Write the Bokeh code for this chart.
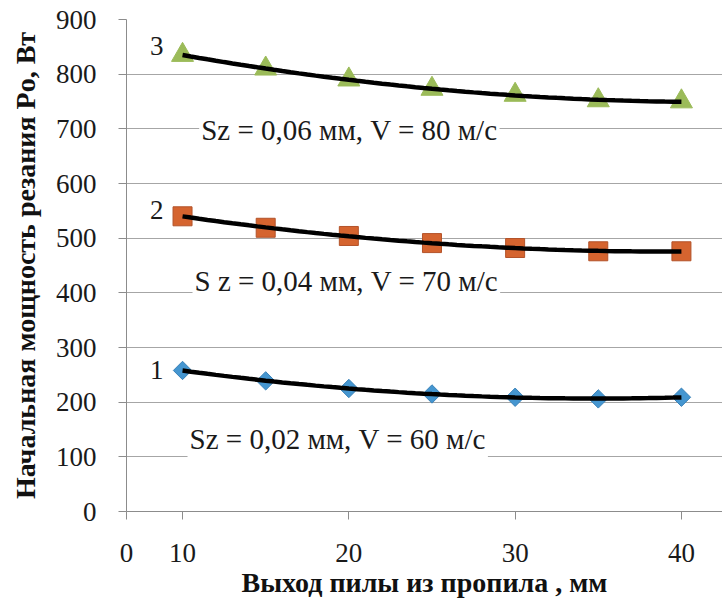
import numpy as np
from bokeh.plotting import figure
from bokeh.models import Range1d, FixedTicker, Label, ColumnDataSource
from bokeh.embed import file_html
from bokeh.resources import INLINE

# ---- data ----
x_mm = [10, 15, 20, 25, 30, 35, 40]
p_sz002 = [258, 239, 225, 215, 209, 206, 209]   # 1: Sz=0,02 мм, V=60 м/с
p_sz004 = [540, 519, 504, 491, 482, 476, 476]   # 2: Sz=0,04 мм, V=70 м/с
p_sz006 = [835, 810, 790, 773, 762, 752, 750]   # 3: Sz=0,06 мм, V=80 м/с
series_numbers = ["1", "2", "3"]
series_notes = ["Sz = 0,02 мм, V = 60 м/с",
                "S z = 0,04 мм, V = 70 м/с",
                "Sz = 0,06 мм, V = 80 м/с"]
x_tick_values = [10, 20, 30, 40]
x_tick_labels = ["0", "10", "20", "30", "40"]
y_ticks = [0, 100, 200, 300, 400, 500, 600, 700, 800, 900]

X_START = 6.63
X_END = 42.47

SERIF = "Liberation Serif"
GRID = "#A6A6A6"

p = figure(width=722, height=605, output_backend="svg", toolbar_location=None,
           x_range=Range1d(X_START, X_END), y_range=Range1d(0, 900),
           min_border_left=126, min_border_right=0, min_border_top=19,
           min_border_bottom=94)
p.outline_line_color = None
p.background_fill_color = "white"
p.border_fill_color = "white"

# axes
p.xgrid.grid_line_color = None
p.ygrid.grid_line_color = GRID
p.ygrid.grid_line_width = 1
p.yaxis.ticker = FixedTicker(ticks=y_ticks)
p.xaxis.ticker = FixedTicker(ticks=[X_START] + x_tick_values)
p.xaxis.major_label_overrides = {X_START: x_tick_labels[0],
                                 **{v: l for v, l in zip(x_tick_values, x_tick_labels[1:])}}
for ax in (p.xaxis[0], p.yaxis[0]):
    ax.axis_line_color = "#8C8C8C"
    ax.major_tick_line_color = "#8C8C8C"
    ax.major_tick_out = 8
    ax.major_tick_in = 0
    ax.minor_tick_out = 0
    ax.minor_tick_in = 0
    ax.major_label_text_font = SERIF
    ax.major_label_text_font_size = "27px"
    ax.major_label_text_color = "#1a1a1a"
    ax.axis_label_text_font = SERIF
    ax.axis_label_text_font_style = "bold"
    ax.axis_label_text_font_size = "28px"
    ax.axis_label_text_color = "#111111"

p.yaxis.major_label_standoff = 22
p.xaxis.major_label_standoff = 24
p.yaxis.axis_label = "Начальная мощность резания Po, Вт"
p.xaxis.axis_label = "Выход пилы из пропила , мм"
p.yaxis.axis_label_standoff = 12
p.xaxis.axis_label_standoff = 2

# markers
src1 = ColumnDataSource(dict(x=x_mm, y=p_sz002))
src2 = ColumnDataSource(dict(x=x_mm, y=p_sz004))
src3 = ColumnDataSource(dict(x=x_mm, y=p_sz006))
p.scatter("x", "y", source=src1, marker="square", size=13, angle=np.pi / 4,
          fill_color="#4596D0", line_color="#3A82B8", line_width=1)
p.scatter("x", "y", source=src2, marker="square", size=19,
          fill_color="#D5642F", line_color="#B3532A", line_width=1)
p.scatter("x", "y", source=src3, marker="triangle", size=22,
          fill_color="#9BBB59", line_color="#9BBB59", line_width=1)

# quadratic trend lines (fitted from the data)
xf = np.linspace(min(x_mm), max(x_mm), 61)
for ys in (p_sz002, p_sz004, p_sz006):
    c = np.polyfit(x_mm, ys, 2)
    p.line(xf, np.polyval(c, xf), line_color="black", line_width=4.5)

# series numbers
num_pos = [(8.86, 258), (8.86, 552), (8.86, 851)]
for t, (lx, ly) in zip(series_numbers, num_pos):
    p.add_layout(Label(x=lx, y=ly, text=t, text_align="right", text_baseline="middle",
                       text_font=SERIF, text_font_size="27px", text_color="#1a1a1a"))

# condition notes
note_pos = [(10.3, 132), (10.6, 422), (11.0, 697)]
for t, (lx, ly) in zip(series_notes, note_pos):
    p.add_layout(Label(x=lx, y=ly, text=t, text_align="left", text_baseline="alphabetic",
                       text_font=SERIF, text_font_size="29px", text_color="#1a1a1a",
                       background_fill_color="white", padding=2))

open("out.html", "w").write(file_html(p, INLINE))
